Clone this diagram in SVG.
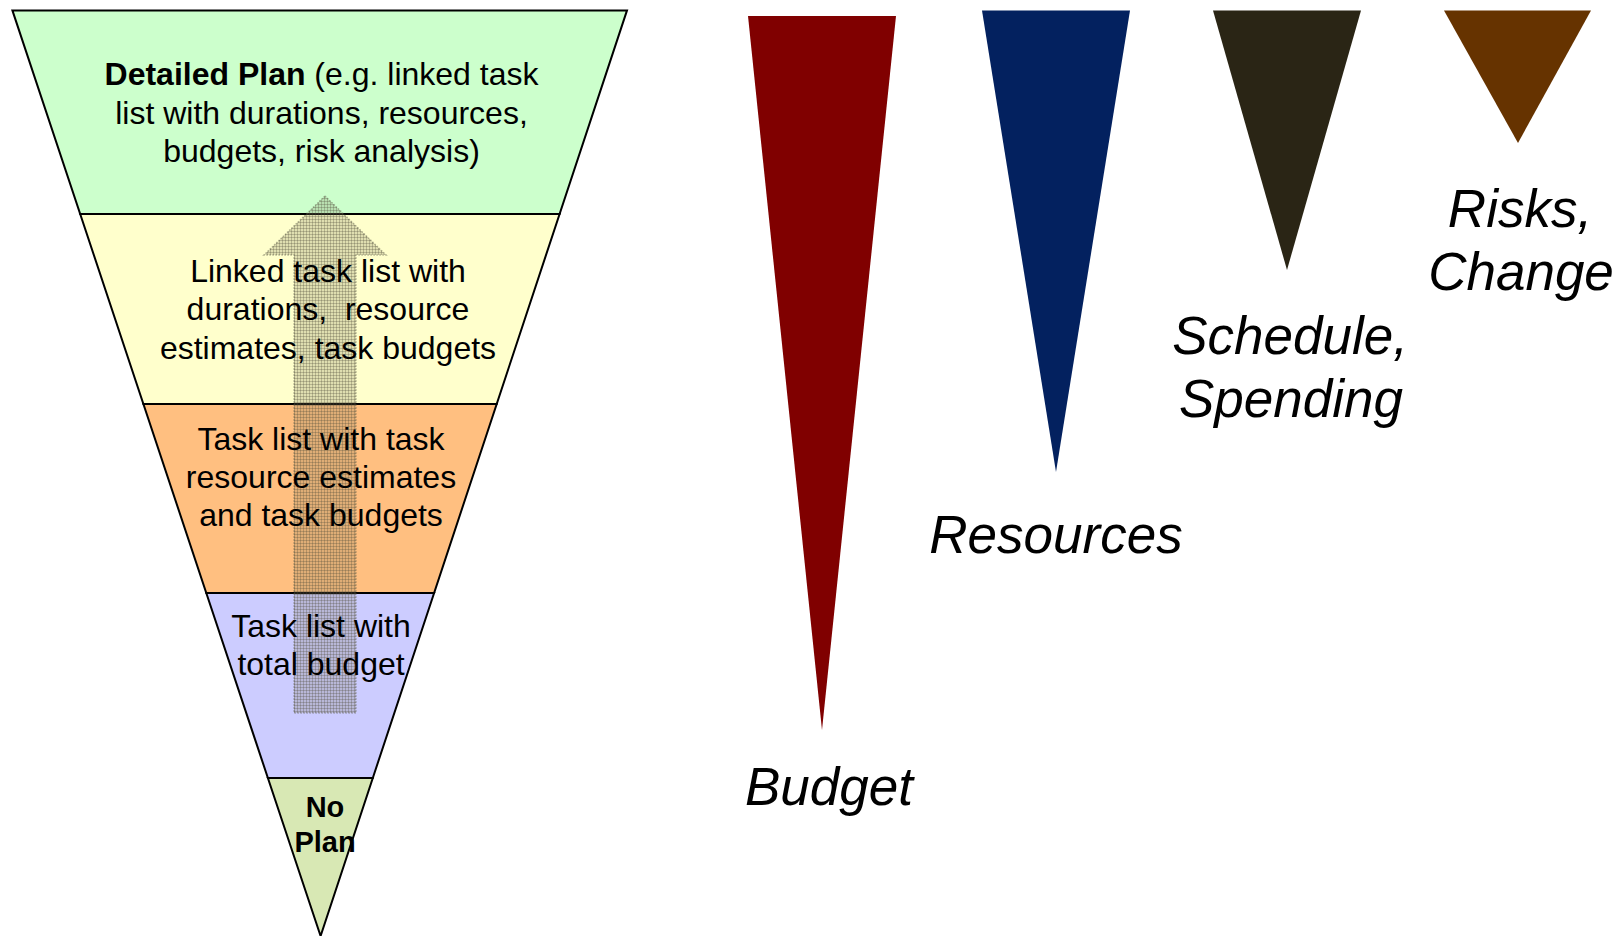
<svg xmlns="http://www.w3.org/2000/svg" width="1623" height="936" viewBox="0 0 1623 936">
  <style>
    .band { stroke: #000; stroke-width: 2; stroke-linejoin: miter; }
    .txt { font-family: "Liberation Sans", Arial, sans-serif; font-size: 32px; fill: #000; text-anchor: middle; }
    .bold { font-weight: bold; }
    .small { font-size: 29px; }
    .label { font-family: "Liberation Sans", Arial, sans-serif; font-size: 53px; font-style: italic; fill: #000; text-anchor: middle; }
  </style>
  <defs>
    <!-- screen-like dotted texture for the translucent arrow -->
    <pattern id="dots" width="3" height="3" patternUnits="userSpaceOnUse">
      <rect width="3" height="3" fill="#787458" fill-opacity="0.24"/>
      <rect width="3" height="1" fill="#4a4636" fill-opacity="0.28"/>
      <rect width="1" height="3" fill="#4a4636" fill-opacity="0.28"/>
    </pattern>
  </defs>
  <rect width="1623" height="936" fill="#fff"/>

  <!-- planning funnel, widest (most detail) at the top -->
  <g id="band-detailed-plan">
    <polygon class="band" fill="#CCFFCC" points="12.4,10.4 627,10.4 559.6,214 80.2,214"/>
  </g>
  <g id="band-linked-task-list">
    <polygon class="band" fill="#FFFFCC" points="80.2,214 559.6,214 496.7,404 143.4,404"/>
  </g>
  <g id="band-task-list-estimates">
    <polygon class="band" fill="#FFBF80" points="143.4,404 496.7,404 434.1,593 206.3,593"/>
  </g>
  <g id="band-task-list-total">
    <polygon class="band" fill="#CCCCFF" points="206.3,593 434.1,593 372.8,778 267.9,778"/>
  </g>
  <g id="band-no-plan">
    <polygon class="band" fill="#D8E8B4" points="267.9,778 372.8,778 320.6,936"/>
  </g>

  <!-- upward progression arrow through the funnel -->
  <g id="connectors">
    <polygon fill="url(#dots)" stroke="#5a5a48" stroke-opacity="0.45" stroke-width="1.5" stroke-dasharray="1.5 1.5"
             points="325,196 386,255 356,255 356,713 294,713 294,255 264,255"/>
  </g>

  <!-- funnel texts -->
  <g id="text-detailed-plan">
    <text class="txt" x="321.5" y="85">
      <tspan class="bold">Detailed Plan</tspan> (e.g. linked task</text>
    <text class="txt" x="321.5" y="123.5">list with durations, resources,</text>
    <text class="txt" x="321.5" y="162">budgets, risk analysis)</text>
  </g>
  <g id="text-linked-task-list">
    <text class="txt" x="328" y="281.5">Linked task list with</text>
    <text class="txt" x="328" y="320" xml:space="preserve">durations,  resource</text>
    <text class="txt" x="328" y="358.5">estimates, task budgets</text>
  </g>
  <g id="text-task-list-estimates">
    <text class="txt" x="321" y="450">Task list with task</text>
    <text class="txt" x="321" y="488">resource estimates</text>
    <text class="txt" x="321" y="526">and task budgets</text>
  </g>
  <g id="text-task-list-total">
    <text class="txt" x="321" y="637">Task list with</text>
    <text class="txt" x="321" y="674.5">total budget</text>
  </g>
  <g id="text-no-plan">
    <text class="txt bold small" x="325" y="817">No</text>
    <text class="txt bold small" x="325" y="852">Plan</text>
  </g>

  <!-- uncertainty wedges -->
  <g id="wedge-budget">
    <polygon fill="#800000" points="748,16 896,16 822,730"/>
    <text class="label" x="829" y="805">Budget</text>
  </g>
  <g id="wedge-resources">
    <polygon fill="#03215F" points="982,10.4 1130,10.4 1056,472"/>
    <text class="label" x="1056" y="553">Resources</text>
  </g>
  <g id="wedge-schedule">
    <polygon fill="#2A2515" points="1213,10.4 1361,10.4 1287,270"/>
    <text class="label" x="1290" y="354">Schedule,</text>
    <text class="label" x="1291" y="417">Spending</text>
  </g>
  <g id="wedge-risks">
    <polygon fill="#663300" points="1444,10.4 1591,10.4 1518,143"/>
    <text class="label" x="1520" y="227">Risks,</text>
    <text class="label" x="1521" y="290">Change</text>
  </g>
</svg>
